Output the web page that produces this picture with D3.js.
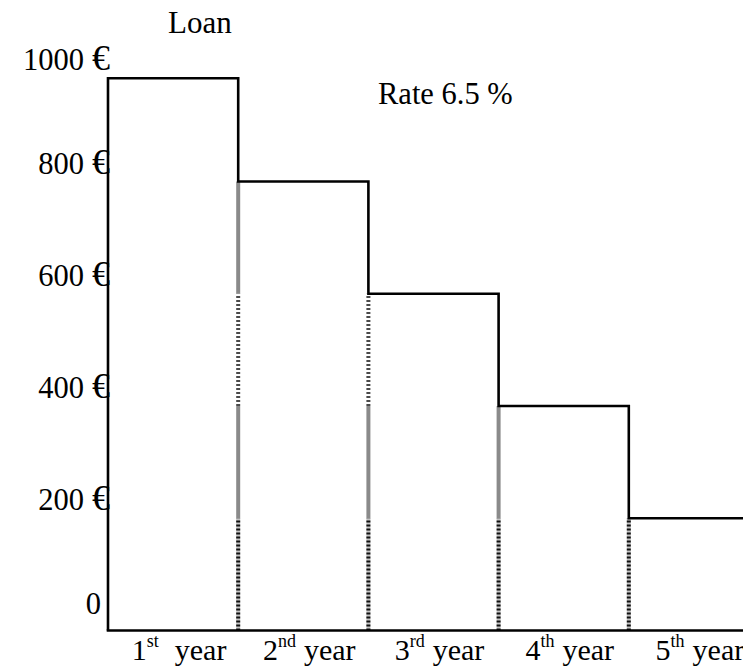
<!DOCTYPE html>
<html>
<head>
<meta charset="utf-8">
<script src="https://cdn.jsdelivr.net/npm/d3@7"></script>
<style>
  html, body { margin: 0; padding: 0; background: #fff; }
  svg { display: block; }
</style>
</head>
<body>
<svg id="chart" width="743" height="669"></svg>
<script>
// ---- data ----
const categories = ["1", "2", "3", "4", "5"];
const ordinalSuffixes = ["st", "nd", "rd", "th", "th"];
const loanValues = [984, 800, 600, 400, 200];
const yTickValues = [0, 200, 400, 600, 800, 1000];
const titleText = "Loan";
const rateText = "Rate 6.5 %";

// ---- layout ----
const FONT = "'Liberation Serif', 'Times New Roman', Tinos, 'DejaVu Serif', serif";
const W = 743, H = 669;
const svg = d3.select("#chart").attr("font-family", FONT);
svg.append("rect").attr("width", W).attr("height", H).attr("fill", "#fff");

const x = d3.scaleBand().domain(categories).range([108, 759]).paddingInner(0).paddingOuter(0);
const y = d3.scaleLinear().domain([0, 1000]).range([630.5, 69.3]);
const bw = x.bandwidth();

// dividers (left edges of bars 2..5), banded by y-ticks
const bandStep = yTickValues[1] - yTickValues[0];
const divG = svg.append("g");
categories.forEach((c, j) => {
  if (j === 0) return;
  const xx = x(c);
  const v = loanValues[j];
  for (let k = 0; bandStep * (k + 1) <= v + 1e-9; k++) {
    const y0 = y(bandStep * k), y1 = y(Math.min(bandStep * (k + 1), v));
    if (k % 2 === 1) {
      divG.append("line").attr("x1", xx).attr("x2", xx).attr("y1", y0).attr("y2", y1)
        .attr("stroke", "#8a8a8a").attr("stroke-width", 4);
    } else if (k === 0) {
      divG.append("line").attr("x1", xx).attr("x2", xx).attr("y1", y0).attr("y2", y1)
        .attr("stroke", "#c4c4c4").attr("stroke-width", 4);
      divG.append("line").attr("x1", xx).attr("x2", xx).attr("y1", y0).attr("y2", y1)
        .attr("stroke", "#111").attr("stroke-width", 4).attr("stroke-dasharray", "2,2");
    } else {
      divG.append("line").attr("x1", xx).attr("x2", xx).attr("y1", y0).attr("y2", y1)
        .attr("stroke", "#4a4a4a").attr("stroke-width", 4).attr("stroke-dasharray", "2,2");
    }
  }
});

// step outline
const pts = [[x(categories[0]), y(0)], [x(categories[0]), y(loanValues[0])]];
categories.forEach((c, i) => {
  const xr = x(c) + bw;
  pts.push([xr, y(loanValues[i])]);
  if (i < categories.length - 1) pts.push([xr, y(loanValues[i + 1])]);
});
svg.append("path")
  .attr("d", d3.line()(pts))
  .attr("fill", "none").attr("stroke", "#000").attr("stroke-width", 2.6)
  .attr("stroke-linejoin", "miter");

// baseline
svg.append("line")
  .attr("x1", x(categories[0]) - 1.3).attr("x2", W)
  .attr("y1", y(0)).attr("y2", y(0))
  .attr("stroke", "#000").attr("stroke-width", 2.6);

// y tick labels
const maxTick = d3.max(yTickValues);
yTickValues.forEach(v => {
  const off = v === 0 ? -17 : (v === maxTick ? 1 : -8);
  const t = svg.append("text")
    .attr("x", v === 0 ? 101 : 110)
    .attr("y", y(v) + off)
    .attr("text-anchor", "end")
    .attr("font-size", 30.5);
  t.append("tspan").text(String(v));
  if (v !== 0) {
    t.append("tspan").attr("font-size", 36).attr("dx", 8).text("€");
  }
});

// x labels
categories.forEach((c, i) => {
  const t = svg.append("text")
    .attr("x", x(c) + bw / 2 + 6)
    .attr("y", 660)
    .attr("text-anchor", "middle")
    .attr("font-size", 30);
  t.append("tspan").text(c);
  t.append("tspan").attr("font-size", 18).attr("dy", -13).text(ordinalSuffixes[i]);
  t.append("tspan").attr("dy", 13).attr("dx", i === 0 ? 16 : 8).text("year");
});

// titles
svg.append("text").attr("x", 168).attr("y", 33).attr("font-size", 31).text(titleText);
svg.append("text").attr("x", 378).attr("y", 104).attr("font-size", 30.5).text(rateText);
</script>
</body>
</html>
